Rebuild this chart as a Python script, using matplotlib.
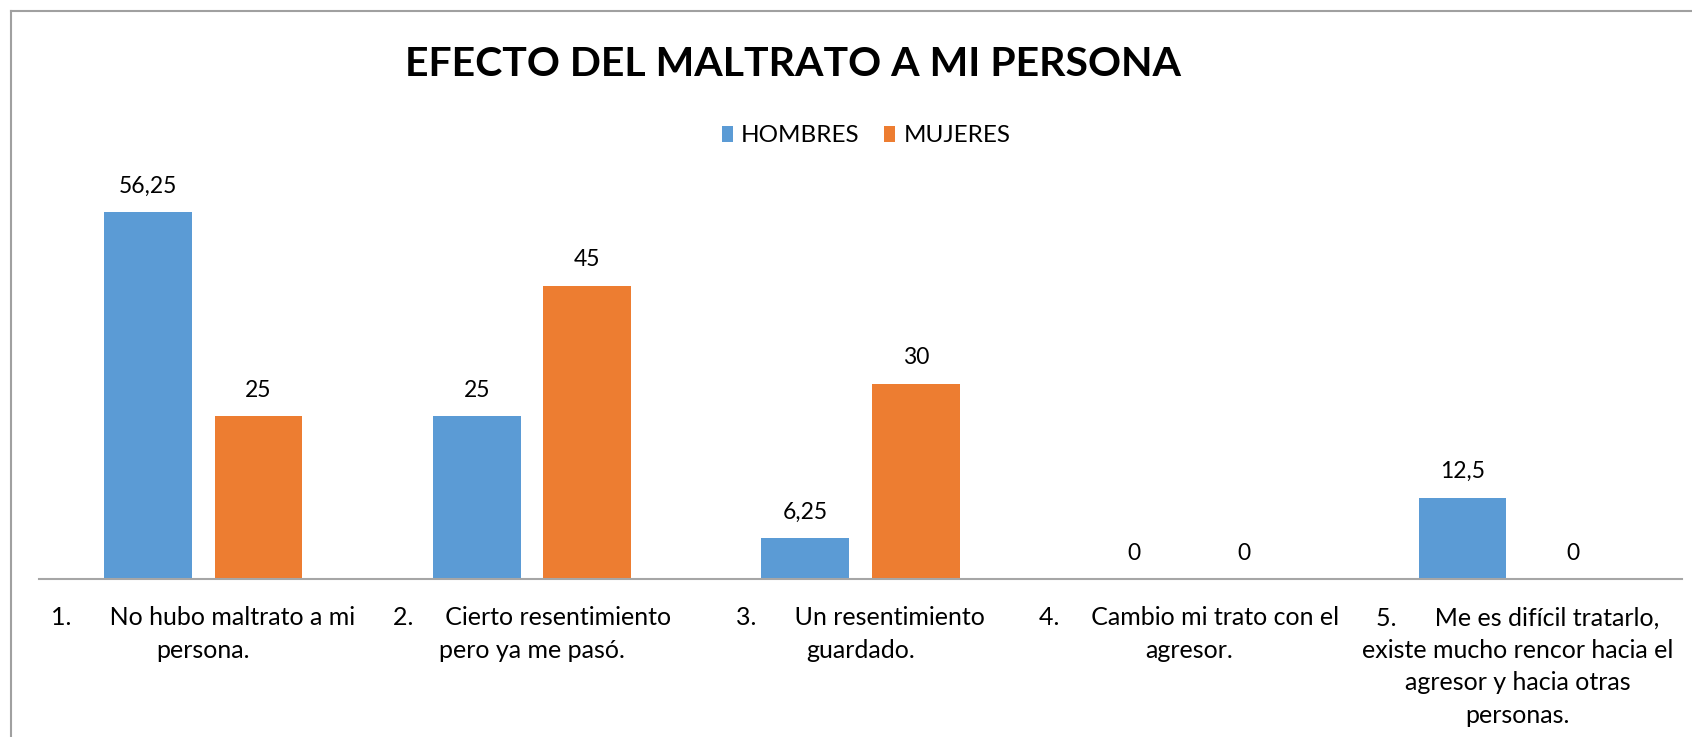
import matplotlib
matplotlib.use("Agg")
import matplotlib.pyplot as plt
from matplotlib.lines import Line2D
import numpy as np

categories = [
    "1.      No hubo maltrato a mi\npersona.",
    "2.     Cierto resentimiento\npero ya me pasó.",
    "3.      Un resentimiento\nguardado.",
    "4.     Cambio mi trato con el\nagresor.",
    "5.      Me es difícil tratarlo,\nexiste mucho rencor hacia el\nagresor y hacia otras\npersonas.",
]
hombres = [56.25, 25, 6.25, 0, 12.5]
mujeres = [25, 45, 30, 0, 0]
series_names = ["HOMBRES", "MUJERES"]
value_labels_h = ["56,25", "25", "6,25", "0", "12,5"]
value_labels_m = ["25", "45", "30", "0", "0"]
title = "EFECTO DEL MALTRATO A MI PERSONA"

BLUE = "#5B9BD5"
ORANGE = "#ED7D31"
FONT = "Lato"

plt.rcParams["font.family"] = [FONT, "DejaVu Sans"]

W, H = 1692, 737
fig = plt.figure(figsize=(W / 100, H / 100), dpi=100)

ax = fig.add_axes([39 / W, (H - 579) / H, 1643 / W, 391 / H])
x = np.arange(len(categories))
bw = 0.267
off = 0.168
b1 = ax.bar(x - off, hombres, bw, color=BLUE, label=series_names[0])
b2 = ax.bar(x + off, mujeres, bw, color=ORANGE, label=series_names[1])

for xi, v, t in zip(x - off, hombres, value_labels_h):
    ax.annotate(t, (xi, v), xytext=(0, 11), textcoords="offset points",
                ha="center", va="bottom", fontsize=16.5, color="#000000")
for xi, v, t in zip(x + off, mujeres, value_labels_m):
    ax.annotate(t, (xi, v), xytext=(0, 11), textcoords="offset points",
                ha="center", va="bottom", fontsize=16.5, color="#000000")

ax.set_xlim(-0.5, len(categories) - 0.5)
ax.set_ylim(0, 60)
ax.set_yticks([])
ax.set_xticks(x)
ax.set_xticklabels(categories, fontsize=18, linespacing=1.5, ha="center", va="top")
ax.tick_params(axis="x", length=0, pad=19.5)
for s in ["top", "right", "left"]:
    ax.spines[s].set_visible(False)
ax.spines["bottom"].set_color("#A6A6A6")
ax.spines["bottom"].set_linewidth(1.5)

fig.text(793 / W, 1 - 65 / H, title, ha="center", va="center",
         fontsize=29.5, fontweight="bold", color="#000000")

fig.legend(handles=[b1, b2], labels=series_names, loc="center",
           bbox_to_anchor=(866 / W, 1 - 136 / H), ncol=2, frameon=False,
           fontsize=17.5, handlelength=0.45, handleheight=0.6,
           handletextpad=0.35, columnspacing=1.0)

# outer chart frame (left and top edges visible)
fig.add_artist(Line2D([10.5 / W, 10.5 / W], [0, 1 - 11 / H], transform=fig.transFigure,
                      color="#A0A0A0", lw=1.5))
fig.add_artist(Line2D([10.5 / W, 1], [1 - 11 / H, 1 - 11 / H], transform=fig.transFigure,
                      color="#A0A0A0", lw=1.5))

fig.savefig("out.png", dpi=100, facecolor="white")
